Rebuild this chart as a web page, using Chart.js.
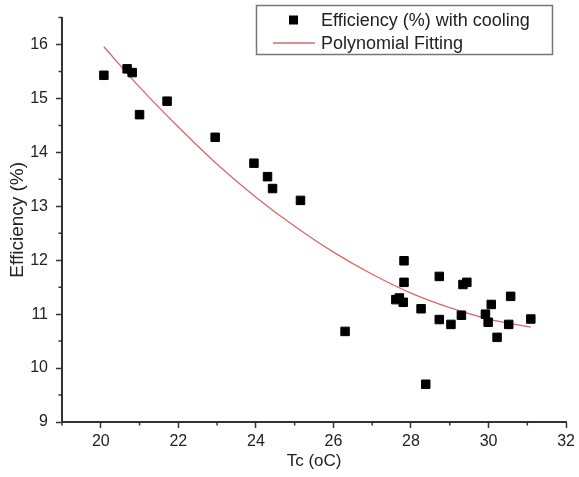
<!DOCTYPE html>
<html>
<head>
<meta charset="utf-8">
<script src="https://cdn.jsdelivr.net/npm/chart.js@4.4.0/dist/chart.umd.min.js"></script>
<style>
  html, body { margin: 0; padding: 0; background: #fff; }
  #wrap { width: 579px; height: 477px; }
</style>
</head>
<body>
<div id="wrap"><canvas id="chart"></canvas></div>
<script>
// measured points: Tc (oC) vs efficiency (%)
var tcValues = [20.08, 20.68, 20.81, 21.00, 21.71, 22.95, 23.95, 24.30, 24.43, 25.15,
    26.30, 27.61, 27.70, 27.80, 27.82, 27.82, 28.26, 28.38, 28.73, 28.73,
    29.03, 29.30, 29.34, 29.44, 29.92, 29.99, 30.07, 30.22, 30.52, 30.57, 31.09];
var effValues = [15.43, 15.55, 15.48, 14.70, 14.95, 14.28, 13.80, 13.55, 13.33, 13.11,
    10.68, 11.27, 11.30, 11.22, 11.99, 11.59, 11.10, 9.70, 11.70, 10.90,
    10.81, 10.98, 11.55, 11.59, 11.00, 10.85, 11.18, 10.57, 10.81, 11.33, 10.91];

// polynomial fitting curve
var fitTc = [20.08, 21, 22, 23, 24, 25, 26, 27, 28, 29, 30, 31.09];
var fitEff = [15.96, 15.21, 14.47, 13.78, 13.17, 12.63, 12.15, 11.74, 11.39, 11.12, 10.91, 10.76];

var xTicks = [20, 22, 24, 26, 28, 30, 32];
var xMinorTicks = [19, 21, 23, 25, 27, 29, 31];
var yTicks = [9, 10, 11, 12, 13, 14, 15, 16];
var yMinorTicks = [9.5, 10.5, 11.5, 12.5, 13.5, 14.5, 15.5, 16.5];

var axisColor = '#333';
var textColor = '#222';
var fontFamily = '"Liberation Sans", Arial, sans-serif';

var minorTicks = {
    id: 'minorTicks',
    afterDraw: function (chart) {
        var ctx = chart.ctx;
        var x = chart.scales.x, y = chart.scales.y;
        ctx.save();
        ctx.strokeStyle = axisColor;
        ctx.lineWidth = 1.5;
        ctx.beginPath();
        xMinorTicks.forEach(function (v) {
            var px = x.getPixelForValue(v);
            ctx.moveTo(px, x.top);
            ctx.lineTo(px, x.top + 3.5);
        });
        yMinorTicks.forEach(function (v) {
            var py = y.getPixelForValue(v);
            ctx.moveTo(y.right, py);
            ctx.lineTo(y.right - 3.5, py);
        });
        ctx.stroke();
        ctx.restore();
    }
};

var boxLegend = {
    id: 'boxLegend',
    afterDraw: function (chart) {
        var ctx = chart.ctx;
        var sets = chart.data.datasets;
        ctx.save();
        ctx.strokeStyle = '#777';
        ctx.lineWidth = 1.5;
        ctx.strokeRect(256.5, 5.5, 296, 49);
        ctx.font = '18px ' + fontFamily;
        ctx.fillStyle = textColor;
        ctx.textBaseline = 'middle';
        for (var i = 0; i < sets.length; i++) {
            var ds = sets[i];
            var cy = 20 + i * 23;
            if (ds.showLine) {
                ctx.strokeStyle = ds.borderColor;
                ctx.lineWidth = ds.borderWidth;
                ctx.beginPath();
                ctx.moveTo(273, cy);
                ctx.lineTo(315, cy);
                ctx.stroke();
            } else {
                ctx.fillStyle = ds.backgroundColor;
                ctx.fillRect(289, cy - 4.5, 9, 9);
            }
            ctx.fillStyle = textColor;
            ctx.fillText(ds.label, 321, cy + 1);
        }
        ctx.restore();
    }
};

new Chart(document.getElementById('chart'), {
    type: 'scatter',
    data: {
        datasets: [
            {
                label: 'Efficiency (%) with cooling',
                data: tcValues.map(function (t, i) { return { x: t, y: effValues[i] }; }),
                pointStyle: 'rect',
                pointRadius: 6,
                pointHoverRadius: 6,
                backgroundColor: '#000',
                borderColor: '#000',
                borderWidth: 1,
                showLine: false,
                order: 1
            },
            {
                label: 'Polynomial Fitting',
                data: fitTc.map(function (t, i) { return { x: t, y: fitEff[i] }; }),
                showLine: true,
                borderColor: '#d46a6a',
                backgroundColor: '#d46a6a',
                borderWidth: 1.3,
                pointRadius: 0,
                tension: 0.4,
                cubicInterpolationMode: 'monotone',
                fill: false,
                order: 2
            }
        ]
    },
    options: {
        responsive: true,
        maintainAspectRatio: false,
        animation: false,
        layout: { padding: { top: 11, right: 12, left: 0, bottom: 0 } },
        plugins: {
            legend: { display: false },
            tooltip: { enabled: false }
        },
        scales: {
            x: {
                type: 'linear',
                min: 19,
                max: 32,
                afterBuildTicks: function (s) { s.ticks = xTicks.map(function (v) { return { value: v }; }); },
                afterFit: function (s) { s.height = 55; },
                border: { display: true, color: axisColor, width: 2 },
                grid: { drawOnChartArea: false, drawTicks: true, tickLength: 6, tickWidth: 1.5, tickColor: axisColor },
                ticks: { color: textColor, padding: 4, font: { family: fontFamily, size: 16 } },
                title: {
                    display: true,
                    text: 'Tc (oC)',
                    color: textColor,
                    font: { family: fontFamily, size: 17 },
                    padding: { top: 0, bottom: 5 }
                }
            },
            y: {
                type: 'linear',
                min: 9,
                max: 16.5,
                afterBuildTicks: function (s) { s.ticks = yTicks.map(function (v) { return { value: v }; }); },
                afterFit: function (s) { s.width = 62; },
                border: { display: true, color: axisColor, width: 2 },
                grid: { drawOnChartArea: false, drawTicks: true, tickLength: 6, tickWidth: 1.5, tickColor: axisColor },
                ticks: { color: textColor, padding: 8, font: { family: fontFamily, size: 16 } },
                title: {
                    display: true,
                    text: 'Efficiency (%)',
                    color: textColor,
                    font: { family: fontFamily, size: 19 },
                    padding: { top: 6, bottom: 0 }
                }
            }
        }
    },
    plugins: [minorTicks, boxLegend]
});
</script>
</body>
</html>
